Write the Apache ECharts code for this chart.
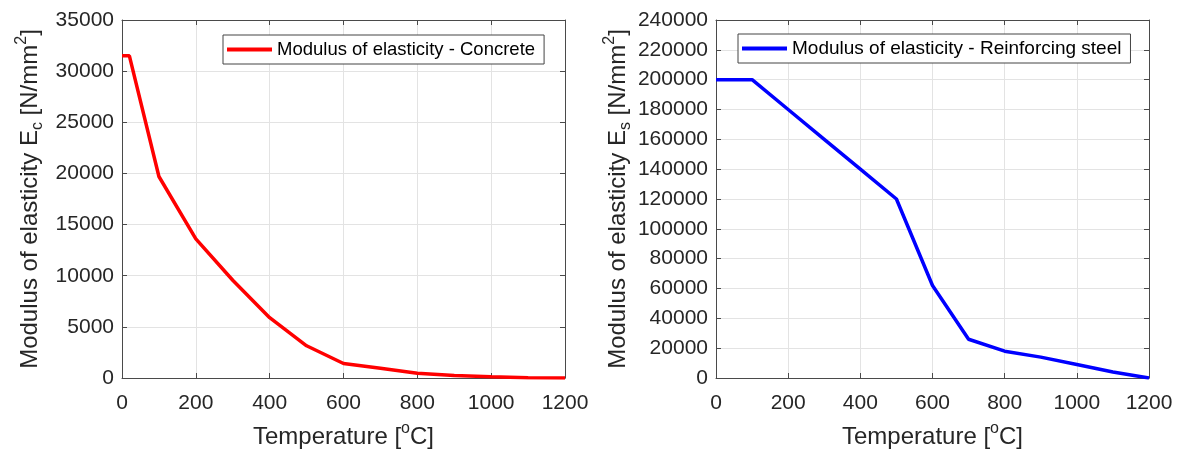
<!DOCTYPE html>
<html>
<head>
<meta charset="utf-8">
<script src="https://cdn.jsdelivr.net/npm/echarts@6/dist/echarts.min.js"></script>
<style>
html,body{margin:0;padding:0;background:#fff;}
#c{width:1179px;height:451px;}
</style>
</head>
<body>
<div id="c"></div>
<script>
// Data
const concreteTemp = [0, 20, 100, 200, 300, 400, 500, 600, 700, 800, 900, 1000, 1100, 1200];
const concreteE    = [31500, 31500, 19700, 13600, 9560, 5900, 3150, 1420, 945, 470, 250, 125, 30, 0];
const steelTemp    = [0, 100, 200, 300, 400, 500, 600, 700, 800, 900, 1000, 1100, 1200];
const steelE       = [200000, 200000, 180000, 160000, 140000, 120000, 62000, 26000, 18000, 14000, 9000, 4000, 0];
const concreteName = 'Modulus of elasticity - Concrete';
const steelName    = 'Modulus of elasticity - Reinforcing steel';
const xRange = {min: 0, max: 1200, interval: 200};
const yRangeConcrete = {min: 0, max: 35000, interval: 5000};
const yRangeSteel = {min: 0, max: 240000, interval: 20000};

const FONT = 'Liberation Sans, Arial, Helvetica, sans-serif';
const AX = '#4a4a4a';
const TXT = '#262626';
const GRID = '#e3e3e3';

const richTitle = {
  t: {fontSize: 24, fontFamily: FONT, color: TXT, lineHeight: 32},
  sub: {fontSize: 16, fontFamily: FONT, color: TXT, lineHeight: 16, verticalAlign: 'bottom'},
  sup: {fontSize: 16, fontFamily: FONT, color: TXT, lineHeight: 16, verticalAlign: 'top'}
};
const plainNum = v => String(v);

function mainX(gi, r) {
  return {
    type: 'value', gridIndex: gi, position: 'bottom', min: r.min, max: r.max, interval: r.interval,
    name: '{t|Temperature [}{sup|o}{t|C]}', nameLocation: 'middle', nameGap: 43,
    nameTextStyle: {rich: richTitle},
    axisLine: {show: true, onZero: false, lineStyle: {color: AX, width: 1}},
    axisTick: {show: true, inside: true, length: 5, lineStyle: {color: AX}},
    axisLabel: {fontSize: 21, fontFamily: FONT, color: TXT, margin: 15, formatter: plainNum},
    splitLine: {show: true, lineStyle: {color: GRID, width: 1}}
  };
}
function topX(gi, r) {
  return {
    type: 'value', gridIndex: gi, position: 'top', min: r.min, max: r.max, interval: r.interval,
    axisLine: {show: true, onZero: false, lineStyle: {color: AX, width: 1}},
    axisTick: {show: true, inside: true, length: 5, lineStyle: {color: AX}},
    axisLabel: {show: false}, splitLine: {show: false}
  };
}
function mainY(gi, r, name, gap) {
  return {
    type: 'value', gridIndex: gi, position: 'left', min: r.min, max: r.max, interval: r.interval,
    name: name, nameLocation: 'middle', nameGap: gap, nameRotate: 90,
    nameTextStyle: {rich: richTitle},
    axisLine: {show: true, onZero: false, lineStyle: {color: AX, width: 1}},
    axisTick: {show: true, inside: true, length: 5, lineStyle: {color: AX}},
    axisLabel: {fontSize: 21, fontFamily: FONT, color: TXT, margin: 8, formatter: plainNum},
    splitLine: {show: true, lineStyle: {color: GRID, width: 1}}
  };
}
function rightY(gi, r) {
  return {
    type: 'value', gridIndex: gi, position: 'right', min: r.min, max: r.max, interval: r.interval,
    axisLine: {show: true, onZero: false, lineStyle: {color: AX, width: 1}},
    axisTick: {show: true, inside: true, length: 5, lineStyle: {color: AX}},
    axisLabel: {show: false}, splitLine: {show: false}
  };
}
function legendFor(name, left, top, fs) {
  return {
    data: [name], left: left, top: top, icon: 'rect', itemWidth: 45, itemHeight: 4,
    padding: [5, 9, 5, 4], backgroundColor: '#fff', borderColor: '#444', borderWidth: 1, borderRadius: 0,
    textStyle: {fontSize: fs, fontFamily: FONT, color: '#000', lineHeight: 19},
    selectedMode: false
  };
}

const chart = echarts.init(document.getElementById('c'), null, {renderer: 'canvas'});
chart.setOption({
  backgroundColor: '#fff',
  animation: false,
  grid: [
    {left: 122, top: 20, width: 443, height: 358, containLabel: false, outerBoundsMode: 'none'},
    {left: 716, top: 20, width: 433, height: 358, containLabel: false, outerBoundsMode: 'none'}
  ],
  legend: [
    legendFor(concreteName, 223, 35, 18.5),
    legendFor(steelName, 738, 34, 19)
  ],
  xAxis: [mainX(0, xRange), topX(0, xRange), mainX(1, xRange), topX(1, xRange)],
  yAxis: [
    mainY(0, yRangeConcrete, '{t|Modulus of elasticity E}{sub|c}{t| [N/mm}{sup|2}{t|]}', 76),
    rightY(0, yRangeConcrete),
    mainY(1, yRangeSteel, '{t|Modulus of elasticity E}{sub|s}{t| [N/mm}{sup|2}{t|]}', 80),
    rightY(1, yRangeSteel)
  ],
  series: [
    {
      name: concreteName, type: 'line', xAxisIndex: 0, yAxisIndex: 0,
      data: concreteTemp.map((t, i) => [t, concreteE[i]]),
      showSymbol: false, symbol: 'none', color: '#ff0000',
      lineStyle: {color: '#ff0000', width: 3.5}
    },
    {
      name: steelName, type: 'line', xAxisIndex: 2, yAxisIndex: 2,
      data: steelTemp.map((t, i) => [t, steelE[i]]),
      showSymbol: false, symbol: 'none', color: '#0000ff',
      lineStyle: {color: '#0000ff', width: 3.5}
    }
  ]
});
</script>
</body>
</html>
